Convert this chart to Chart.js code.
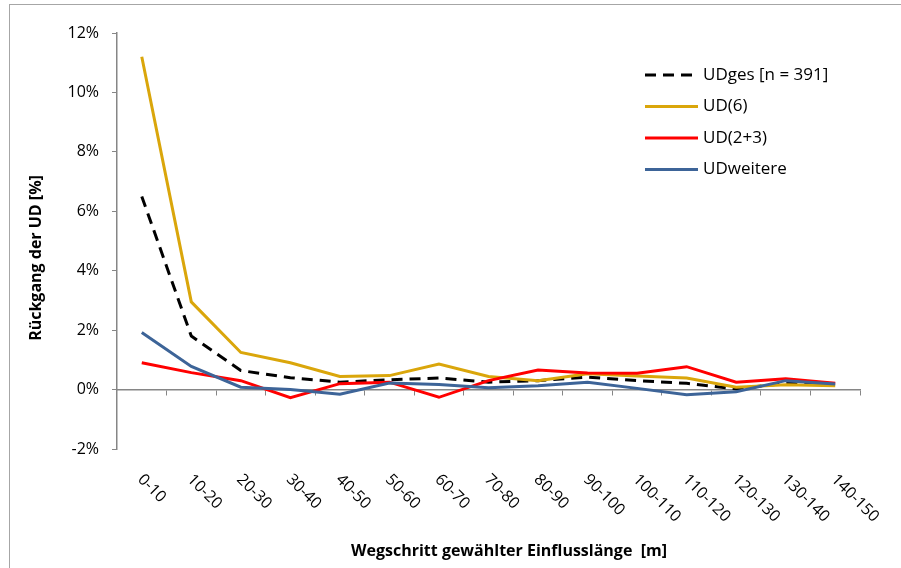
<!DOCTYPE html>
<html>
<head>
<meta charset="utf-8">
<script src="https://cdn.jsdelivr.net/npm/chart.js@4/dist/chart.umd.min.js"></script>
<style>
  body { margin: 0; background: #fff; }
  #wrap { width: 901px; height: 568px; }
</style>
</head>
<body>
<div id="wrap"><canvas id="udChart" width="901" height="568"></canvas></div>
<script>
const categories = ["0-10", "10-20", "20-30", "30-40", "40-50", "50-60", "60-70", "70-80",
  "80-90", "90-100", "100-110", "110-120", "120-130", "130-140", "140-150"];

// Rückgang in %
const udGes     = [6.5, 1.8, 0.64, 0.4, 0.25, 0.33, 0.39, 0.25, 0.3, 0.42, 0.3, 0.21, 0.02, 0.21, 0.19];
const ud6       = [11.2, 2.95, 1.25, 0.9, 0.44, 0.47, 0.86, 0.44, 0.3, 0.53, 0.46, 0.39, 0.08, 0.16, 0.13];
const ud23      = [0.9, 0.57, 0.3, -0.27, 0.2, 0.25, -0.26, 0.3, 0.66, 0.56, 0.55, 0.77, 0.25, 0.36, 0.21];
const udWeitere = [1.92, 0.78, 0.08, 0.0, -0.16, 0.22, 0.17, 0.06, 0.13, 0.25, 0.04, -0.17, -0.07, 0.3, 0.19];

const yMin = -2, yMax = 12, yStep = 2;

const FONT = "'Open Sans', sans-serif";
const AXIS_GREY = "#868686";

// frame around the whole chart
const framePlugin = {
  id: "frame",
  beforeDraw(chart) {
    const ctx = chart.ctx;
    ctx.save();
    ctx.strokeStyle = "#a6a6a6";
    ctx.lineWidth = 1;
    ctx.strokeRect(9.5, 4.5, 1200, 1200);
    ctx.restore();
  }
};

// slanted category labels, axis titles and legend
const labelsPlugin = {
  id: "labels",
  afterDraw(chart) {
    const ctx = chart.ctx;
    const xs = chart.scales.x;
    const area = chart.chartArea;
    ctx.save();
    ctx.fillStyle = "#000";

    ctx.font = "16px " + FONT;
    ctx.textAlign = "left";
    ctx.textBaseline = "middle";
    categories.forEach((c, i) => {
      ctx.save();
      ctx.translate(xs.getPixelForValue(i) - 1.5, area.bottom + 28);
      ctx.rotate(Math.PI / 4);
      ctx.fillText(c, 0, 0);
      ctx.restore();
    });

    ctx.font = "bold 16px " + FONT;
    ctx.textAlign = "center";
    ctx.fillText("Wegschritt gewählter Einflusslänge  [m]", 509, 551);
    ctx.save();
    ctx.translate(36, 258);
    ctx.rotate(-Math.PI / 2);
    ctx.fillText("Rückgang der UD [%]", 0, 0);
    ctx.restore();

    // legend
    ctx.font = "17px " + FONT;
    ctx.textAlign = "left";
    chart.data.datasets.forEach((ds, i) => {
      const y = 75 + i * 31.5;
      ctx.save();
      ctx.strokeStyle = ds.borderColor;
      ctx.lineWidth = ds.borderWidth;
      ctx.setLineDash(ds.borderDash || []);
      ctx.beginPath();
      ctx.moveTo(645, y);
      ctx.lineTo(698, y);
      ctx.stroke();
      ctx.restore();
      ctx.fillText(ds.label, 703, y);
    });
    ctx.restore();
  }
};

new Chart(document.getElementById("udChart"), {
  type: "line",
  data: {
    labels: categories,
    datasets: [
      { label: "UDges [n = 391]", data: udGes, borderColor: "#000000", borderDash: [11, 7], order: 4 },
      { label: "UD(6)", data: ud6, borderColor: "#DAA60B", order: 3 },
      { label: "UD(2+3)", data: ud23, borderColor: "#FF0000", order: 2 },
      { label: "UDweitere", data: udWeitere, borderColor: "#3D6498", order: 1 }
    ].map(ds => Object.assign({ borderWidth: 3, pointRadius: 0, tension: 0, fill: false }, ds))
  },
  options: {
    responsive: false,
    animation: false,
    devicePixelRatio: 1,
    layout: { padding: { left: 0, top: 33, right: 41, bottom: 119 } },
    plugins: { legend: { display: false }, tooltip: { enabled: false } },
    scales: {
      x: {
        position: { y: 0 },
        offset: true,
        ticks: { display: false },
        grid: { offset: true, drawOnChartArea: false, tickLength: 5, color: AXIS_GREY, lineWidth: 1 },
        border: { color: AXIS_GREY, width: 1.5 }
      },
      y: {
        min: yMin,
        max: yMax,
        afterFit(scale) { scale.width = 117; },
        ticks: {
          stepSize: yStep,
          padding: 13,
          color: "#000",
          font: { family: FONT, size: 16 },
          callback: v => v + "%"
        },
        grid: { drawOnChartArea: false, tickLength: 5, color: AXIS_GREY, lineWidth: 1 },
        border: { color: AXIS_GREY, width: 1.5 }
      }
    }
  },
  plugins: [framePlugin, labelsPlugin]
});
</script>
</body>
</html>
